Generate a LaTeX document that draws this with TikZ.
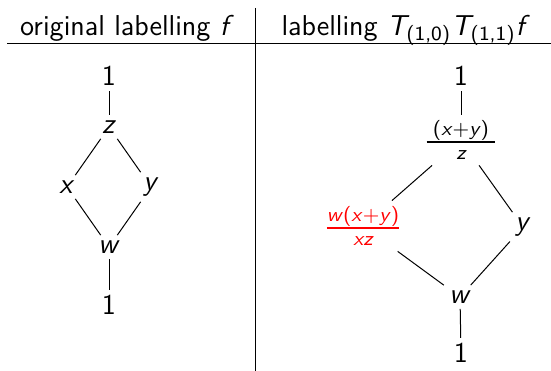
\documentclass[tikz,border=0pt]{standalone}
\usepackage{xcolor}
\usepackage{amsmath}
\renewcommand\familydefault{\sfdefault}
% variables in sans italic, as on slides
\newcommand\mv[1]{\textit{#1}}
\newcommand\mt[1]{\text{#1}}
\usetikzlibrary{positioning}
\tikzset{
  lab/.style={inner sep=2pt, font=\fontsize{11.5}{13.5}\selectfont},
  hdr/.style={lab, anchor=base},
  newlab/.style={lab, text=red},
  ln/.style={draw=black, line width=0.4pt},
}

\begin{document}
\begin{tikzpicture}[x=0.4pt, y=-0.4pt]
  \useasboundingbox (0,0) rectangle (551,371);
  % table head
  \node[hdr] (hleft) at (127,36) {original labelling \mv{f}};
  \node[hdr] (hright) at (403,36) {labelling $\mv{T}_{\mt{(1,0)}}\mv{T}_{\mt{(1,1)}}\mv{f}$};
  \coordinate (rulel) at (7,44);
  \coordinate (ruler) at (551,44);
  \coordinate (sept) at (255,8);
  \coordinate (sepb) at (255,371);
  \draw[ln] (rulel) -- (ruler);
  \draw[ln] (sept) -- (sepb);

  % left: original labelling
  \node[lab] (ltop) at (109,76) {1};
  \node[lab] (lz) at (109,127) {\mv{z}};
  \node[lab] (lx) at (67,187) {\mv{x}};
  \node[lab] (ly) at (151,187) {\mv{y}};
  \node[lab] (lw) at (109,247) {\mv{w}};
  \node[lab] (lbot) at (109,305) {1};
  \draw[ln] (ltop) -- (lz);
  \draw[ln] (lz) -- (lx);
  \draw[ln] (lz) -- (ly);
  \draw[ln] (lx) -- (lw);
  \draw[ln] (ly) -- (lw);
  \draw[ln] (lw) -- (lbot);

  % right: after the toggles
  \node[lab] (rtop) at (461,76) {1};
  \node[lab] (rz) at (461,140) {$\frac{\hspace{2.5pt}\mt{(\mv{x}+\mv{y})}\hspace{2.5pt}}{\mv{z}}$};
  \node[newlab] (rx) at (363,226) {$\frac{\mt{\mv{w}(\mv{x}+\mv{y})}}{\mv{xz}}$};
  \node[lab] (ry) at (523,227) {\mv{y}};
  \node[lab] (rw) at (460,297) {\mv{w}};
  \node[lab] (rbot) at (461,353) {1};
  \draw[ln] (rtop) -- (rz);
  \draw[ln] (rz) -- (rx);
  \draw[ln] (rz) -- (ry);
  \draw[ln] (rx) -- (rw);
  \draw[ln] (ry) -- (rw);
  \draw[ln] (rw) -- (rbot);
\end{tikzpicture}
\end{document}
